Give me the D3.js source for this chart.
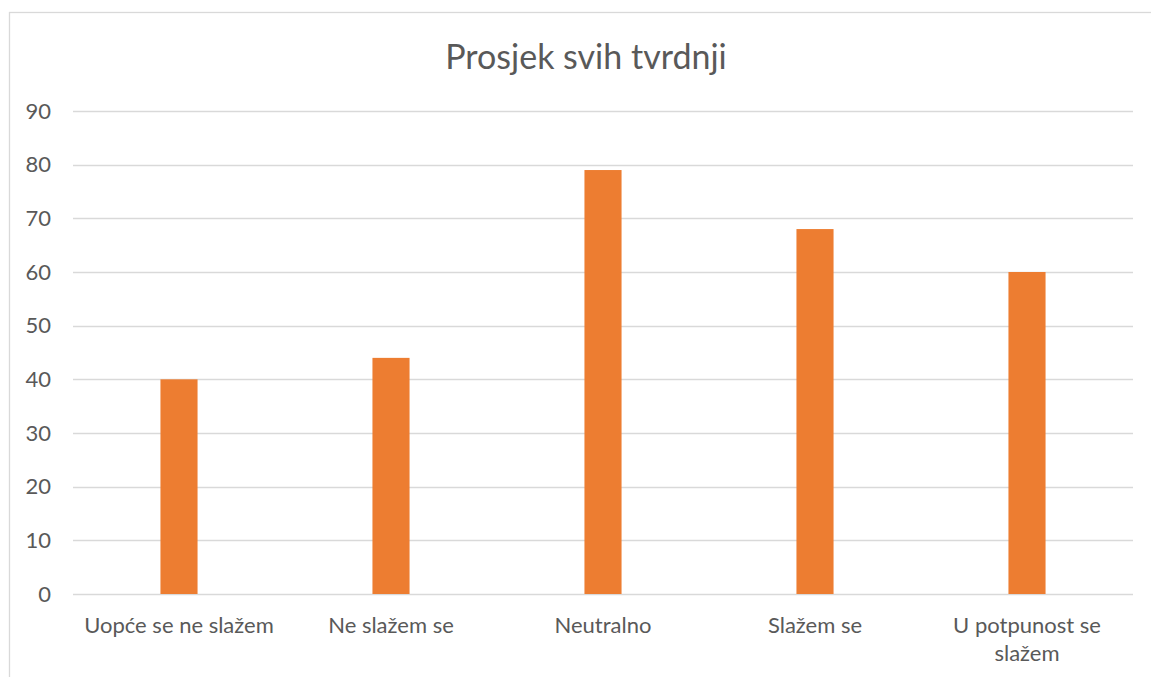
<!DOCTYPE html>
<meta charset="utf-8">
<style>
    body { margin: 0; background: #fff; }
    svg { display: block; font-family: Lato, "Open Sans", sans-serif; }
</style>
<body>
<svg width="1151" height="677"></svg>
<script src="https://d3js.org/d3.v7.min.js"></script>
<script>
    // chart values
    var categories = ["Uopće se ne slažem", "Ne slažem se", "Neutralno", "Slažem se", "U potpunost se slažem"];
    var values = [40, 44, 79, 68, 60];
    var yTicks = [0, 10, 20, 30, 40, 50, 60, 70, 80, 90];
    var title = "Prosjek svih tvrdnji";

    var svg = d3.select("svg");

    var margin = { top: 111, right: 18, bottom: 83, left: 73 },
        width = +svg.attr("width") - margin.left - margin.right,
        height = +svg.attr("height") - margin.top - margin.bottom;

    // outer chart border (right and bottom edges fall outside the picture)
    svg.append("rect")
        .attr("x", 9.5).attr("y", 12.5)
        .attr("width", 1200).attr("height", 700)
        .attr("fill", "none")
        .attr("stroke", "#d9d9d9")
        .attr("stroke-width", 1.3);

    svg.append("text")
        .attr("x", 586)
        .attr("y", 69)
        .attr("text-anchor", "middle")
        .style("font-size", "34px")
        .style("fill", "#595959")
        .text(title);

    var x = d3.scaleBand().domain(categories).range([0, width]).padding(0),
        y = d3.scaleLinear().domain([0, 90]).range([height, 0]);

    var g = svg.append("g")
        .attr("transform", "translate(" + margin.left + "," + margin.top + ")");

    // gridlines
    g.append("g")
        .selectAll("line")
        .data(yTicks)
        .enter().append("line")
        .attr("x1", 0).attr("x2", width)
        .attr("y1", function (d) { return Math.round(y(d)) + 0.5; })
        .attr("y2", function (d) { return Math.round(y(d)) + 0.5; })
        .attr("stroke", "#d9d9d9")
        .attr("stroke-width", 1.3);

    var yAxis = d3.axisLeft(y).tickValues(yTicks).tickSize(0).tickPadding(22);
    var ya = g.append("g").call(yAxis);
    ya.select(".domain").remove();
    ya.selectAll("text")
        .style("font-size", "22px")
        .style("font-family", "Lato, 'Open Sans', sans-serif")
        .style("fill", "#595959");

    var barW = x.bandwidth() * 0.175;
    g.selectAll(".bar")
        .data(values)
        .enter().append("rect")
        .attr("class", "bar")
        .attr("x", function (d, i) { return x(categories[i]) + x.bandwidth() / 2 - barW / 2; })
        .attr("y", function (d) { return y(d); })
        .attr("width", barW)
        .attr("height", function (d) { return height - y(d); })
        .attr("fill", "#ed7d31");

    // category labels, wrapped when too wide
    var xa = g.append("g").attr("transform", "translate(0," + height + ")");
    categories.forEach(function (c) {
        var t = xa.append("text")
            .attr("x", x(c) + x.bandwidth() / 2)
            .attr("y", 39)
            .attr("text-anchor", "middle")
            .style("font-size", "22px")
            .style("fill", "#595959");
        var words = c.split(" "), line = [], lines = [];
        words.forEach(function (w) {
            line.push(w);
            t.text(line.join(" "));
            if (t.node().getComputedTextLength() > 200 && line.length > 1) {
                line.pop();
                lines.push(line.join(" "));
                line = [w];
            }
        });
        lines.push(line.join(" "));
        t.text(null);
        lines.forEach(function (l, i) {
            t.append("tspan")
                .attr("x", x(c) + x.bandwidth() / 2)
                .attr("dy", i === 0 ? 0 : 28)
                .text(l);
        });
    });
</script>
</body>
